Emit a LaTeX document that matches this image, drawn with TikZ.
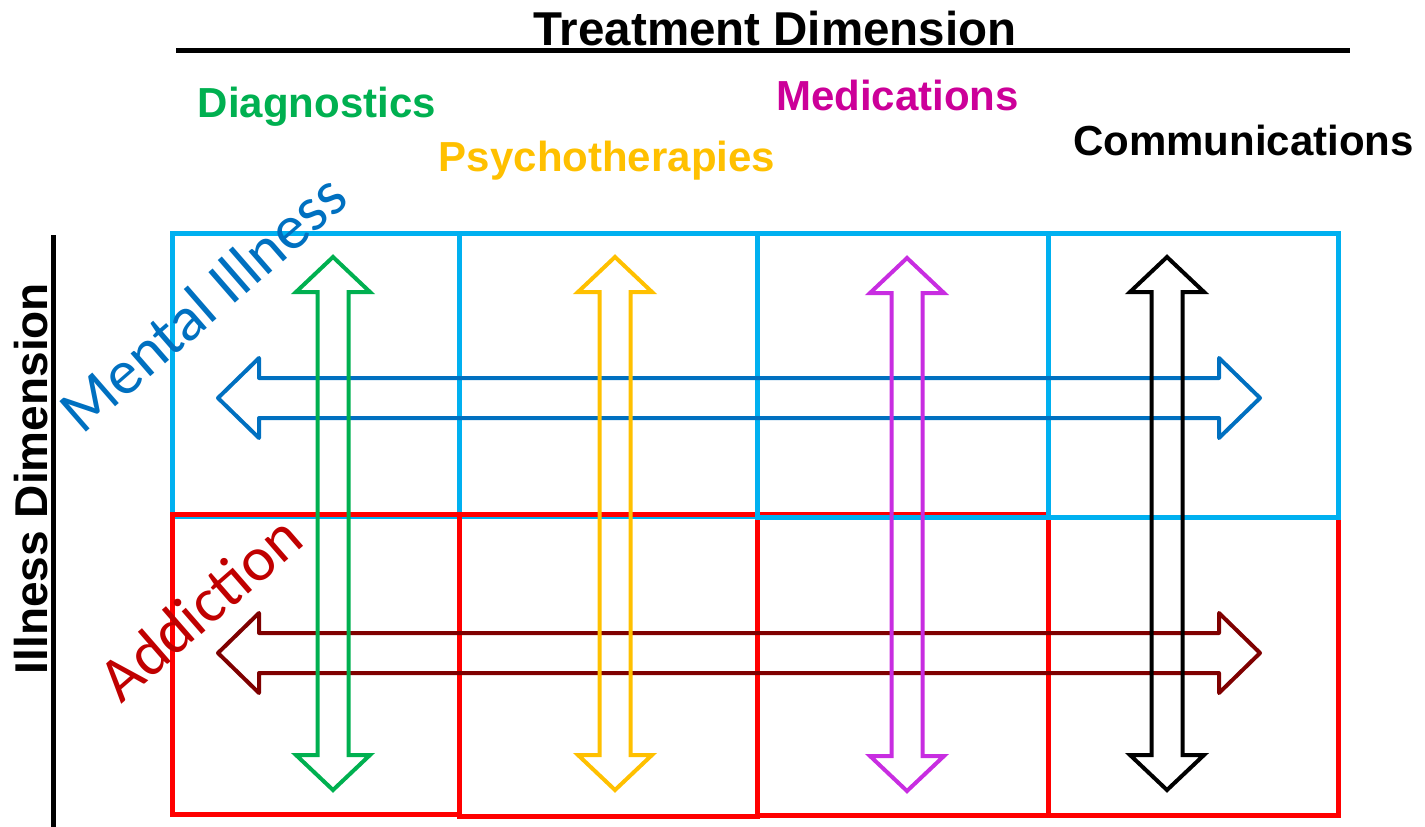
\documentclass[tikz,border=0pt]{standalone}
\usepackage{fontspec}
\setmainfont{Liberation Sans}
\newfontfamily\lightsans{Carlito}
\definecolor{cellblue}{HTML}{00B0F0}
\definecolor{cellred}{HTML}{FF0000}
\definecolor{mentalblue}{HTML}{0070C0}
\definecolor{addictred}{HTML}{C00000}
\definecolor{maroon}{HTML}{7F0000}
\definecolor{diaggreen}{HTML}{00B050}
\definecolor{gold}{HTML}{FFC000}
\definecolor{violet}{HTML}{C82DE1}
\definecolor{medmagenta}{HTML}{CC0099}
\tikzset{
  cell/.style={line width=5},
  heading/.style={inner sep=0, anchor=base, font=\bfseries\fontsize{42}{50}\selectfont},
  axis/.style={inner sep=0, anchor=base, font=\bfseries\fontsize{47.5}{56}\selectfont},
  axisline/.style={line width=5},
  diag/.style={inner sep=0, anchor=base, rotate=41, font=\lightsans\fontsize{63}{75}\selectfont},
  % vertical two-headed block arrow, top tip at the pic origin
  vdouble/.pic={
    \draw[line width=4, miter limit=10]
      (0,0) -- (37,35) -- (15.5,35) -- (15.5,498) -- (37,498) -- (0,533)
      -- (-37,498) -- (-15.5,498) -- (-15.5,35) -- (-37,35) -- cycle;
  },
  % horizontal two-headed block arrow, left tip at the pic origin
  hdouble/.pic={
    \draw[line width=4, line join=round]
      (0,0) -- (41,-40) -- (41,-20) -- (1001,-20) -- (1001,-40) -- (1042,0)
      -- (1001,40) -- (1001,20) -- (41,20) -- (41,40) -- cycle;
  },
}
\begin{document}
\begin{tikzpicture}[x=1pt,y=-1pt]
\useasboundingbox (0,0) rectangle (1425,827);

% axis titles
\node[axis] (treat) at (775,45) {Treatment Dimension};
\draw[axisline] (176,50.5) -- (1350,50.5);
\node[axis, rotate=90, font=\bfseries\fontsize{46}{54}\selectfont] (ill) at (47,478.5) {Illness Dimension};
\draw[axisline] (53,235) -- (53,827);

% treatment headings
\node[heading, text=diaggreen] (diag) at (317,117) {Diagnostics};
\node[heading, text=gold] (psy) at (607,171) {Psychotherapies};
\node[heading, text=medmagenta] (med) at (897.5,110) {Medications};
\node[heading, text=black] (comm) at (1243.5,155) {Communications};

% grid of cells
\draw[cell, cellblue] (172,233) rectangle (459,516);
\draw[cell, cellblue] (459,233) rectangle (757,516);
\draw[cell, cellred] (172,514) rectangle (459,814);
\draw[cell, cellred] (459,514) rectangle (757,816);
\draw[cell, cellred] (757,514) rectangle (1048,815);
\draw[cell, cellred] (1048,517) rectangle (1338,815);
\draw[cell, cellblue] (757,233) rectangle (1048,517);
\draw[cell, cellblue] (1048,233) rectangle (1338,517);

% illness labels
\node[diag, text=mentalblue] (mental) at (217,319) {Mental Illness};
\node[diag, text=addictred] (addict) at (214,624) {Addiction};

% horizontal arrows
\pic[color=mentalblue] at (218,398) {hdouble};
\pic[color=maroon] at (218,653) {hdouble};

% vertical arrows
\pic[color=diaggreen] at (333,257) {vdouble};
\pic[color=gold] at (615,257) {vdouble};
\pic[color=violet] at (907,258) {vdouble};
\pic[color=black] at (1167,257) {vdouble};
\end{tikzpicture}
\end{document}
